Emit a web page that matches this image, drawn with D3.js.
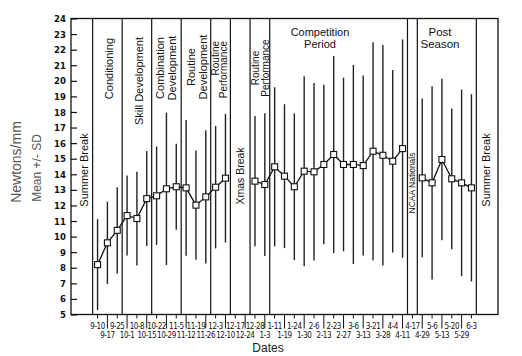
<!DOCTYPE html>
<html>
<head>
<meta charset="utf-8">
<script src="https://cdn.jsdelivr.net/npm/d3@7"></script>
<style>
  html, body { margin: 0; padding: 0; background: #fff; }
  svg { display: block; font-family: "Liberation Sans", Arial, Helvetica, sans-serif; }
</style>
</head>
<body>
<svg id="chart" width="522" height="356"></svg>
<script>
// ---------- DATA ----------
const dates = ["9-10","9-17","9-25","10-1","10-8","10-15","10-22","10-29","11-5","11-12",
  "11-19","11-26","12-3","12-10","12-17","12-24","12-28","1-3","1-11","1-19",
  "1-24","1-30","2-6","2-13","2-23","2-27","3-6","3-13","3-21","3-28",
  "4-4","4-11","4-17","4-29","5-6","5-13","5-20","5-29","6-3"];
const means = [8.2, 9.6, 10.4, 11.35, 11.16, 12.44, 12.62, 13.07, 13.2, 13.13,
  12.02, 12.55, 13.17, 13.75, null, null, 13.56, 13.34, 14.48, 13.88,
  13.2, 14.2, 14.16, 14.63, 15.27, 14.63, 14.63, 14.56, 15.48, 15.22,
  14.84, 15.65, null, 13.77, 13.45, 14.95, 13.71, 13.45, 13.13];
const sds = [2.92, 2.64, 2.77, 2.57, 3.01, 3.05, 3.16, 4.89, 2.76, 4.36,
  3.51, 4.28, 3.93, 4.13, null, null, 4.18, 4.58, 5.11, 4.62,
  4.71, 6.1, 5.7, 5.12, 6.33, 5.57, 6.39, 5.78, 6.99, 7.08,
  5.86, 7.01, null, 5.1, 6.2, 5.18, 4.52, 5.99, 6.01];
const yTicks = [5,6,7,8,9,10,11,12,13,14,15,16,17,18,19,20,21,22,23,24];
// period dividers, in date-index units (between sessions)
const dividers = [-0.5, 2.5, 5.5, 8.5, 11.5, 13.5, 15.5, 17.5, 31.5, 32.5, 38.5];
const periodNames = ["Summer Break","Conditioning","Skill Development","Combination|Development",
  "Routine|Development","Routine|Performance","Xmas Break","Routine|Performance",
  "Competition|Period","NCAA Nationals","Post|Season","Summer Break"];

// ---------- LAYOUT ----------
const svg = d3.select("#chart");
const L = 71, R = 498, T = 18.5, B = 314.5;
const x = d3.scaleLinear().domain([-2.7, 40.7]).range([L, R]);
const y = d3.scaleLinear().domain([5, 24]).range([B, T]);
const narrow = "'Liberation Sans Narrow','DejaVu Sans Condensed','Liberation Sans',Arial,sans-serif";
const fam = "'Liberation Sans',Arial,sans-serif";

svg.append("rect").attr("width", 522).attr("height", 356).attr("fill", "#fff");

// frame
svg.append("rect").attr("x", L).attr("y", T).attr("width", R - L).attr("height", B - T)
  .attr("fill", "none").attr("stroke", "#111").attr("stroke-width", 1.3);

// y axis (inward ticks)
const yAxis = d3.axisRight(y).tickValues(yTicks).tickSize(6).tickFormat(d3.format("d"));
const gy = svg.append("g").attr("transform", `translate(${L},0)`).call(yAxis);
gy.select(".domain").remove();
gy.selectAll(".tick line").attr("stroke", "#111").attr("stroke-width", 1.2);
gy.selectAll(".tick text").attr("x", -5).attr("text-anchor", "end")
  .attr("font-size", 9.5).attr("font-weight", "bold").attr("fill", "#111")
  .attr("font-family", narrow);

// x axis ticks + two-row labels
const xg = svg.append("g");
dates.forEach((d, i) => {
  const odd = i % 2 === 1;
  xg.append("line").attr("x1", x(i)).attr("x2", x(i)).attr("y1", B).attr("y2", odd ? B + 14 : B + 4)
    .attr("stroke", "#111").attr("stroke-width", 1);
  xg.append("text").attr("x", x(i)).attr("y", odd ? 338 : 328.5)
    .attr("text-anchor", "middle").attr("font-size", 8).attr("fill", "#111")
    .attr("font-family", narrow)
    .attr("letter-spacing", -0.45)
    .text(d);
});

// period dividers
svg.selectAll("line.div").data(dividers).enter().append("line").attr("class", "div")
  .attr("x1", d => x(d)).attr("x2", d => x(d)).attr("y1", T).attr("y2", B)
  .attr("stroke", "#111").attr("stroke-width", 1.2);

// period labels
const bounds = [-2.7].concat(dividers, [40.7]);
function vtext(cx, cy, lines, size, anchor, gap) {
  const n = lines.length;
  lines.forEach((t, k) => {
    const xx = cx + (k - (n - 1) / 2) * gap;
    svg.append("text").attr("transform", `translate(${xx},${cy}) rotate(-90)`)
      .attr("text-anchor", anchor).attr("dominant-baseline", "central")
      .attr("font-size", size).attr("font-family", fam).attr("fill", "#111").text(t);
  });
}
function htext(cx, y0, lines, size) {
  lines.forEach((t, k) => {
    svg.append("text").attr("x", cx).attr("y", y0 + k * 12).attr("text-anchor", "middle")
      .attr("font-size", size).attr("font-family", fam).attr("fill", "#111").text(t);
  });
}
periodNames.forEach((name, k) => {
  const lines = name.split("|");
  const cx = (x(bounds[k]) + x(bounds[k + 1])) / 2;
  switch (k) {
    case 0: vtext(cx + 2, 170, lines, 11, "middle", 12); break;
    case 1: vtext(cx + 2, 38, lines, 11, "end", 12); break;
    case 2: vtext(cx + 2, 37, lines, 11, "end", 12); break;
    case 3: vtext(cx - 0.5, 68, lines, 11, "middle", 12.5); break;
    case 4: vtext(cx + 1, 67, lines, 11, "middle", 12); break;
    case 5: vtext(cx - 1, 41, lines, 10, "end", 8); break;
    case 6: vtext(cx - 0.5, 176, lines, 10.5, "middle", 12); break;
    case 7: vtext(cx + 0.5, 68, lines, 10, "middle", 9.5); break;
    case 8: htext(320, 36, lines, 11); break;
    case 9: vtext(cx, 183, lines, 8.5, "middle", 10); break;
    case 10: htext(440, 36, lines, 11.5); break;
    case 11: vtext(cx - 1.5, 170, lines, 11, "middle", 12); break;
  }
});

// error bars
const pts = dates.map((d, i) => ({ i, m: means[i], s: sds[i] })).filter(p => p.m != null);
svg.selectAll("line.err").data(pts).enter().append("line").attr("class", "err")
  .attr("x1", p => x(p.i)).attr("x2", p => x(p.i))
  .attr("y1", p => y(p.m + p.s)).attr("y2", p => y(p.m - p.s))
  .attr("stroke", "#222").attr("stroke-width", 1.4);

// mean line (broken at gaps)
const line = d3.line().defined(p => p.m != null).x(p => x(p.i)).y(p => y(p.m));
svg.append("path").datum(dates.map((d, i) => ({ i, m: means[i] })))
  .attr("d", line).attr("fill", "none").attr("stroke", "#111").attr("stroke-width", 1.3);

// square markers
svg.selectAll("rect.pt").data(pts).enter().append("rect").attr("class", "pt")
  .attr("x", p => x(p.i) - 3).attr("y", p => y(p.m) - 3).attr("width", 6).attr("height", 6)
  .attr("fill", "#fff").attr("stroke", "#111").attr("stroke-width", 1.1);

// axis titles
svg.append("text").attr("x", 268).attr("y", 352).attr("text-anchor", "middle")
  .attr("font-size", 12).attr("font-family", fam).attr("fill", "#222").text("Dates");
svg.append("text").attr("transform", "translate(16,162) rotate(-90)").attr("text-anchor", "middle")
  .attr("dominant-baseline", "central").attr("font-size", 14).attr("font-family", fam)
  .attr("fill", "#555").text("Newtons/mm");
svg.append("text").attr("transform", "translate(37,168) rotate(-90)").attr("text-anchor", "middle")
  .attr("dominant-baseline", "central").attr("font-size", 12).attr("font-family", fam)
  .attr("fill", "#555").text("Mean +/- SD");
</script>
</body>
</html>
